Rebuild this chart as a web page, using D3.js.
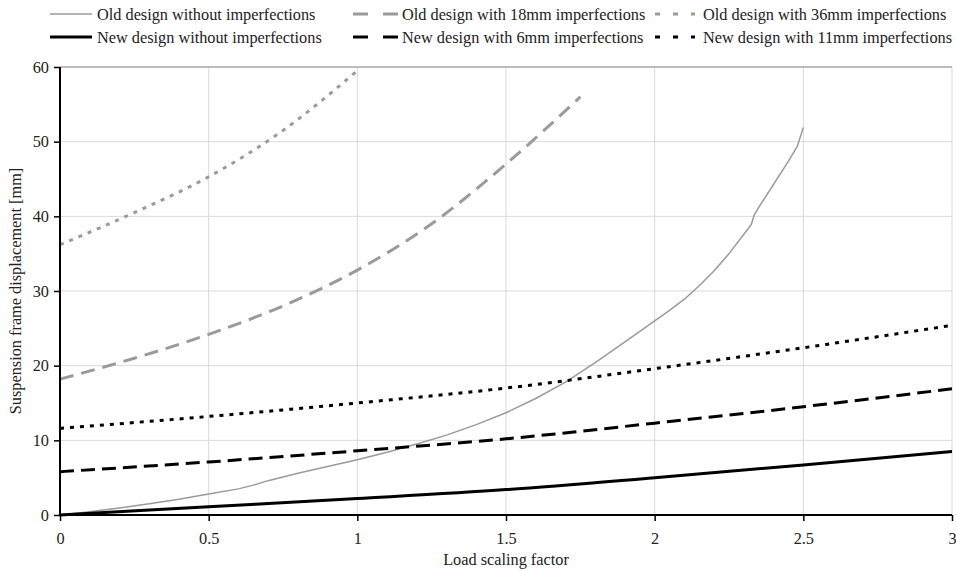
<!DOCTYPE html>
<html>
<head>
<meta charset="utf-8">
<script src="https://cdn.jsdelivr.net/npm/d3@7"></script>
<style>
  body { margin: 0; background: #fff; }
  svg text { font-family: "Liberation Serif", "Times New Roman", serif; fill: #222; }
</style>
</head>
<body>
<div id="chart"></div>
<script>
// load factors and displacements (mm)
var oldNoImpX = [0, 0.1, 0.2, 0.3, 0.4, 0.5, 0.6, 0.65, 0.7, 0.8, 0.9, 1.0, 1.1, 1.2, 1.3, 1.4, 1.5, 1.6, 1.7, 1.8, 1.9, 2.0, 2.05, 2.1, 2.15, 2.2, 2.25, 2.3, 2.325, 2.335, 2.35, 2.4, 2.45, 2.48, 2.5];
var oldNoImpY = [0, 0.45, 0.95, 1.5, 2.1, 2.8, 3.5, 4.0, 4.6, 5.6, 6.5, 7.4, 8.4, 9.5, 10.7, 12.1, 13.7, 15.6, 17.8, 20.4, 23.2, 26.0, 27.4, 28.9, 30.7, 32.7, 35.0, 37.6, 38.9, 40.2, 41.2, 44.3, 47.4, 49.4, 51.9];
var old18X = [0, 0.25, 0.5, 0.75, 1.0, 1.25, 1.5, 1.75];
var old18Y = [18.2, 21.0, 24.2, 28.0, 32.8, 39.0, 47.0, 56.0];
var old36X = [0, 0.25, 0.5, 0.75, 1.0];
var old36Y = [36.2, 40.5, 45.3, 51.5, 59.5];
var newX = [0, 0.5, 1.0, 1.5, 2.0, 2.5, 3.0];
var newNoImpY = [0, 1.1, 2.2, 3.4, 5.0, 6.7, 8.5];
var new6Y = [5.8, 7.1, 8.6, 10.2, 12.3, 14.5, 16.9];
var new11Y = [11.6, 13.2, 15.0, 17.0, 19.6, 22.4, 25.4];

var xTicks = [0, 0.5, 1, 1.5, 2, 2.5, 3];
var yTicks = [0, 10, 20, 30, 40, 50, 60];

var seriesNames = [
    "Old design without imperfections", "Old design with 18mm imperfections", "Old design with 36mm imperfections",
    "New design without imperfections", "New design with 6mm imperfections", "New design with 11mm imperfections"
];

var W = 956, H = 571;
var margin = { left: 60, right: 4, top: 67, bottom: 56 };
var fontSize = "16.3px";

var svg = d3.select("#chart").append("svg")
    .attr("width", W)
    .attr("height", H);

var x = d3.scaleLinear().domain([0, 3]).range([margin.left, W - margin.right]);
var y = d3.scaleLinear().domain([0, 60]).range([H - margin.bottom, margin.top]);

// gridlines
svg.append("g").selectAll("line.v")
    .data(xTicks.slice(1))
    .enter().append("line")
    .attr("x1", d => x(d)).attr("x2", d => x(d))
    .attr("y1", y(0)).attr("y2", y(60))
    .attr("stroke", "#d9d9d9").attr("stroke-width", 1);
svg.append("g").selectAll("line.h")
    .data(yTicks.slice(1))
    .enter().append("line")
    .attr("x1", x(0)).attr("x2", x(3))
    .attr("y1", d => y(d)).attr("y2", d => y(d))
    .attr("stroke", d => d === 60 ? "#a6a6a6" : "#d9d9d9")
    .attr("stroke-width", d => d === 60 ? 1.5 : 1);

// styles for each series
var styles = [
    { color: "#9a9a9a", width: 1.5, dash: null },
    { color: "#9a9a9a", width: 3, dash: "14,8" },
    { color: "#9a9a9a", width: 3, dash: "4,6" },
    { color: "#000", width: 3, dash: null },
    { color: "#000", width: 3, dash: "14,7" },
    { color: "#000", width: 3, dash: "4,6" }
];

var data = [
    d3.zip(oldNoImpX, oldNoImpY),
    d3.zip(old18X, old18Y),
    d3.zip(old36X, old36Y),
    d3.zip(newX, newNoImpY),
    d3.zip(newX, new6Y),
    d3.zip(newX, new11Y)
];

var smooth = d3.line()
    .x(d => x(d[0]))
    .y(d => y(d[1]))
    .curve(d3.curveMonotoneX);
// the old curve has a small kink, so keep it straight between read points
var straight = d3.line()
    .x(d => x(d[0]))
    .y(d => y(d[1]));

data.forEach(function (pts, i) {
    svg.append("path")
        .datum(pts)
        .attr("d", i === 0 ? straight : smooth)
        .attr("fill", "none")
        .attr("stroke", styles[i].color)
        .attr("stroke-width", styles[i].width)
        .attr("stroke-linejoin", "round")
        .attr("stroke-dasharray", styles[i].dash);
});

// axes
var xAxis = d3.axisBottom(x).tickValues(xTicks).tickSize(6).tickFormat(d3.format("~g"));
var yAxis = d3.axisLeft(y).tickValues(yTicks).tickSize(6);

var gx = svg.append("g")
    .attr("transform", "translate(0," + y(0) + ")")
    .call(xAxis);
gx.select(".domain").attr("stroke", "#000").attr("stroke-width", 2).attr("d", "M" + x(0) + ",0H" + x(3));
gx.selectAll(".tick line").attr("stroke", "#000").attr("stroke-width", 1.5);
gx.selectAll(".tick text").attr("y", 17).attr("dy", "0.71em").style("font-size", fontSize);

var gy = svg.append("g")
    .attr("transform", "translate(" + x(0) + ",0)")
    .call(yAxis);
gy.select(".domain").attr("stroke", "#000").attr("stroke-width", 2).attr("d", "M0," + y(0) + "V" + y(60));
gy.selectAll(".tick line").attr("stroke", "#000").attr("stroke-width", 1.5);
gy.selectAll(".tick text").attr("x", -11).style("font-size", fontSize);
svg.selectAll(".tick text").attr("fill", "#222");

// axis titles
svg.append("text")
    .attr("x", (x(0) + x(3)) / 2)
    .attr("y", 565)
    .attr("text-anchor", "middle")
    .style("font-size", fontSize)
    .text("Load scaling factor");
svg.append("text")
    .attr("transform", "translate(21," + ((y(0) + y(60)) / 2) + ") rotate(-90)")
    .attr("text-anchor", "middle")
    .style("font-size", fontSize)
    .text("Suspension frame displacement [mm]");

// legend
var legCols = [50, 353, 655];
var legRows = [14, 37];
var legend = svg.append("g");
seriesNames.forEach(function (name, i) {
    var col = i % 3, row = Math.floor(i / 3);
    var lx = legCols[col], ly = legRows[row];
    var g = legend.append("g").attr("transform", "translate(" + lx + "," + ly + ")");
    var lineLen = col === 0 ? 42 : (col === 1 ? 47 : 40);
    var dash = styles[i].dash;
    if (col === 1) dash = "15,15";
    if (col === 2) dash = "5,13";
    g.append("line")
        .attr("x1", 0).attr("x2", lineLen)
        .attr("y1", 0).attr("y2", 0)
        .attr("stroke", styles[i].color)
        .attr("stroke-width", col === 0 && row === 0 ? 1.5 : 3)
        .attr("stroke-dasharray", dash);
    g.append("text")
        .attr("x", col === 2 ? 48 : (col === 1 ? 49 : 47))
        .attr("y", 0)
        .attr("dy", "0.35em")
        .style("font-size", fontSize)
        .text(name);
});
</script>
</body>
</html>
